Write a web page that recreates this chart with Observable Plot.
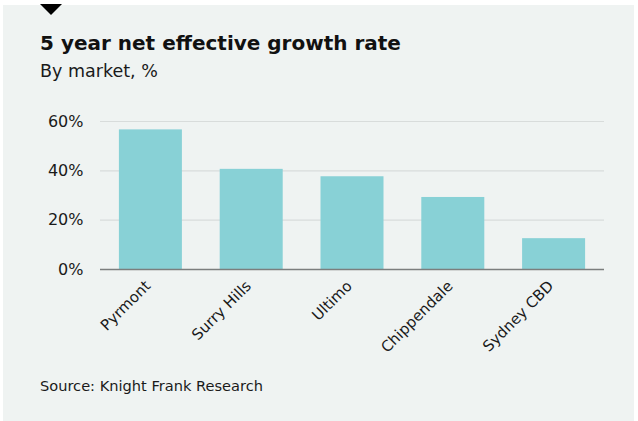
<!DOCTYPE html>
<html>
<head>
<meta charset="utf-8">
<script src="https://cdn.jsdelivr.net/npm/d3@7"></script>
<script src="https://cdn.jsdelivr.net/npm/@observablehq/plot@0.6"></script>
<style>
  html, body { margin: 0; padding: 0; background: #ffffff; }
  #wrap { position: relative; width: 638px; height: 421px; overflow: hidden; background: #ffffff; font-family: "DejaVu Sans", sans-serif; }
  #panel { position: absolute; left: 3px; top: 5px; width: 631px; height: 416px; background: #eff3f2; }
  #tri { position: absolute; left: 40px; top: 4px; width: 0; height: 0; border-left: 11px solid transparent; border-right: 11px solid transparent; border-top: 11px solid #000; }
  #title { position: absolute; left: 40px; top: 31px; font-size: 20px; font-weight: bold; color: #111; white-space: nowrap; line-height: 24px; }
  #subtitle { position: absolute; left: 40px; top: 60px; font-size: 17.5px; color: #1a1a1a; white-space: nowrap; line-height: 22px; }
  #chart { position: absolute; left: 0; top: 0; }
  #source { position: absolute; left: 40px; top: 377px; font-size: 14.6px; color: #1a1a1a; white-space: nowrap; line-height: 18px; }
</style>
</head>
<body>
<div id="wrap">
  <div id="panel"></div>
  <div id="tri"></div>
  <div id="title">5 year net effective growth rate</div>
  <div id="subtitle">By market, %</div>
  <div id="chart"></div>
  <div id="source">Source: Knight Frank Research</div>
</div>
<script>
const markets = ["Pyrmont", "Surry Hills", "Ultimo", "Chippendale", "Sydney CBD"];
const growth = [56.6, 40.6, 37.6, 29.2, 12.5];
const yTicks = [0, 20, 40, 60];

const data = markets.map((m, i) => ({market: m, value: growth[i]}));

const chart = Plot.plot({
  width: 638,
  height: 360,
  marginLeft: 100,
  marginRight: 34,
  marginTop: 121,
  marginBottom: 91,
  style: {background: "transparent", fontFamily: "DejaVu Sans, sans-serif", fontSize: "16px", color: "#1a1a1a"},
  x: {domain: markets, paddingInner: 0.375, paddingOuter: 0.1875, round: false, label: null},
  y: {domain: [0, 60], label: null},
  marks: [
    Plot.gridY([20, 40, 60], {stroke: "#d8dcdb", strokeOpacity: 1, strokeWidth: 1.2}),
    Plot.barY(data, {x: "market", y: "value", fill: "#88d1d6"}),
    Plot.ruleY([0], {stroke: "#7b7e7e", strokeWidth: 1.5}),
    Plot.axisY({ticks: yTicks, tickSize: 0, tickPadding: 17, tickFormat: d => d + "%", label: null, fontSize: 16, fill: "#1a1a1a"}),
    Plot.axisX({tickSize: 0, tickPadding: 14, dx: -3, tickRotate: -45, label: null, fontSize: 15, fill: "#1a1a1a"})
  ]
});
document.getElementById("chart").appendChild(chart);
</script>
</body>
</html>
